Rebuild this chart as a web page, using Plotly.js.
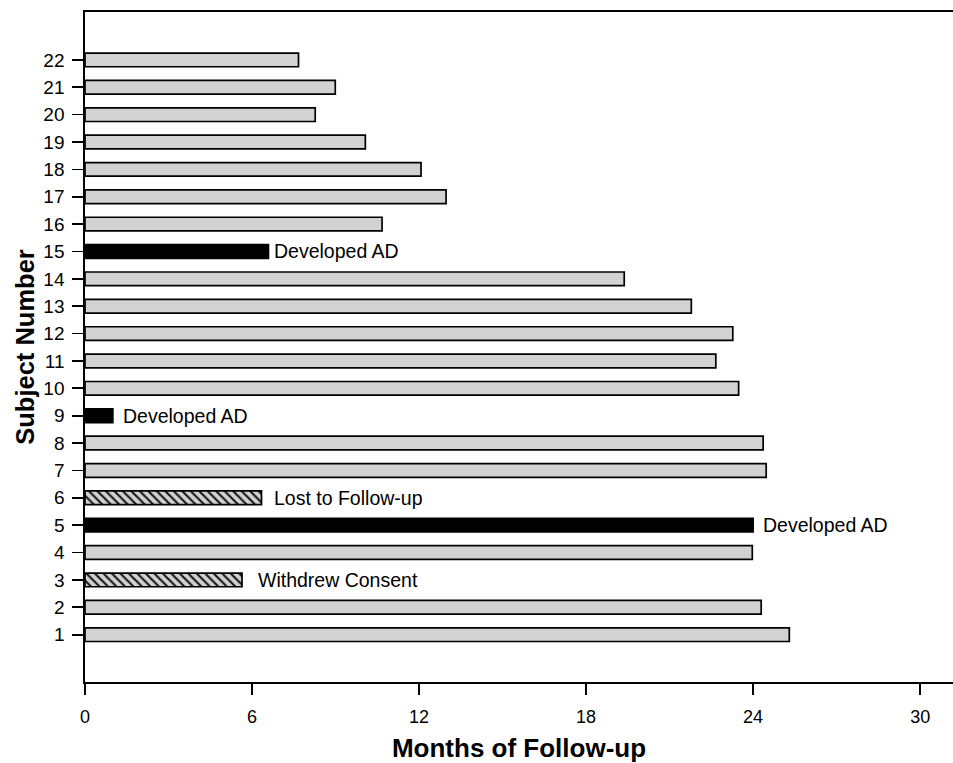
<!DOCTYPE html>
<html>
<head>
<meta charset="utf-8">
<script src="https://cdn.plot.ly/plotly-3.0.1.min.js"></script>
<style>html,body{margin:0;padding:0;background:#fff;}#chart{width:953px;height:763px;}</style>
</head>
<body>
<div id="chart"></div>
<script>
// Subject numbers (y categories)
var subjects = [1, 2, 3, 4, 5, 6, 7, 8, 9, 10, 11, 12, 13, 14, 15, 16, 17, 18, 19, 20, 21, 22];
// Months of follow-up per subject
var months = [25.3, 24.29, 5.64, 23.97, 24.0, 6.34, 24.47, 24.36, 1.0, 23.48, 22.66, 23.27, 21.78, 19.37, 6.59, 10.67, 12.97, 12.07, 10.07, 8.27, 8.99, 7.67];
// Outcome per subject
var outcomes = ['completed', 'completed', 'withdrew', 'completed', 'developed', 'lost', 'completed', 'completed', 'developed', 'completed', 'completed', 'completed', 'completed', 'completed', 'developed', 'completed', 'completed', 'completed', 'completed', 'completed', 'completed', 'completed'];
// Text labels beside bars
var labelText = ['', '', 'Withdrew Consent', '', 'Developed AD', 'Lost to Follow-up', '', '', 'Developed AD', '', '', '', '', '', 'Developed AD', '', '', '', '', '', '', ''];
// X tick values
var xTicks = [0, 6, 12, 18, 24, 30];

function pick(st) {
  var x = [], y = [];
  for (var i = 0; i < subjects.length; i++) {
    if (outcomes[i] === st) { x.push(months[i]); y.push(subjects[i]); }
  }
  return {x: x, y: y};
}

var colors = {completed: '#d2d2d2', developed: '#000000', lost: '#d2d2d2', withdrew: '#d2d2d2'};
var hatched = {lost: true, withdrew: true};

var traces = ['completed', 'developed', 'lost', 'withdrew'].map(function (st) {
  var d = pick(st);
  var marker = {color: colors[st], line: {color: '#000000', width: 1.7}};
  if (hatched[st]) {
    marker.pattern = {shape: '\\', fgcolor: '#111111', bgcolor: '#d2d2d2', size: 6, solidity: 0.35};
  }
  return {
    type: 'bar', orientation: 'h', x: d.x, y: d.y, width: 0.5,
    marker: marker, showlegend: false
  };
});

var annotations = [];
for (var i = 0; i < subjects.length; i++) {
  if (labelText[i]) {
    var sh = 8;
    if (labelText[i] === 'Lost to Follow-up') sh = 10;
    if (labelText[i] === 'Withdrew Consent') sh = 14;
    if (subjects[i] === 15) sh = 4;
    annotations.push({
      x: months[i], y: subjects[i], xref: 'x', yref: 'y',
      text: labelText[i], showarrow: false, xanchor: 'left', yanchor: 'middle',
      xshift: sh,
      font: {family: 'Liberation Sans, Arial, sans-serif', size: 19.5, color: '#000'}
    });
  }
}

var layout = {
  width: 953, height: 763,
  margin: {l: 85, r: 0, t: 12, b: 81},
  paper_bgcolor: '#fff', plot_bgcolor: '#fff',
  barmode: 'overlay',
  xaxis: {
    range: [0, 31.18], tickvals: xTicks, ticktext: xTicks.map(String),
    showgrid: false, zeroline: false,
    showline: true, mirror: true, linecolor: '#000', linewidth: 1.7,
    ticks: 'outside', ticklen: 11, tickwidth: 1.7, tickcolor: '#000',
    ticklabelstandoff: 7,
    tickfont: {family: 'Liberation Sans Narrow, Liberation Sans, Arial, sans-serif', size: 18, color: '#000'},
    title: {text: 'Months of Follow-up', font: {family: 'Liberation Sans, Arial, sans-serif', size: 26, color: '#000', weight: 'bold'}, standoff: 14}
  },
  yaxis: {
    range: [-0.73, 23.75], tickvals: subjects, ticktext: subjects.map(String),
    showgrid: false, zeroline: false,
    showline: true, linecolor: '#000', linewidth: 1.7,
    ticks: 'outside', ticklen: 11, tickwidth: 1.7, tickcolor: '#000',
    ticklabelstandoff: 4,
    tickfont: {family: 'Liberation Sans, Arial, sans-serif', size: 19, color: '#000'},
    title: {text: 'Subject Number', font: {family: 'Liberation Sans, Arial, sans-serif', size: 25.5, color: '#000', weight: 'bold'}, standoff: 1}
  },
  annotations: annotations
};

Plotly.newPlot('chart', traces, layout, {displayModeBar: false, staticPlot: true});
</script>
</body>
</html>
